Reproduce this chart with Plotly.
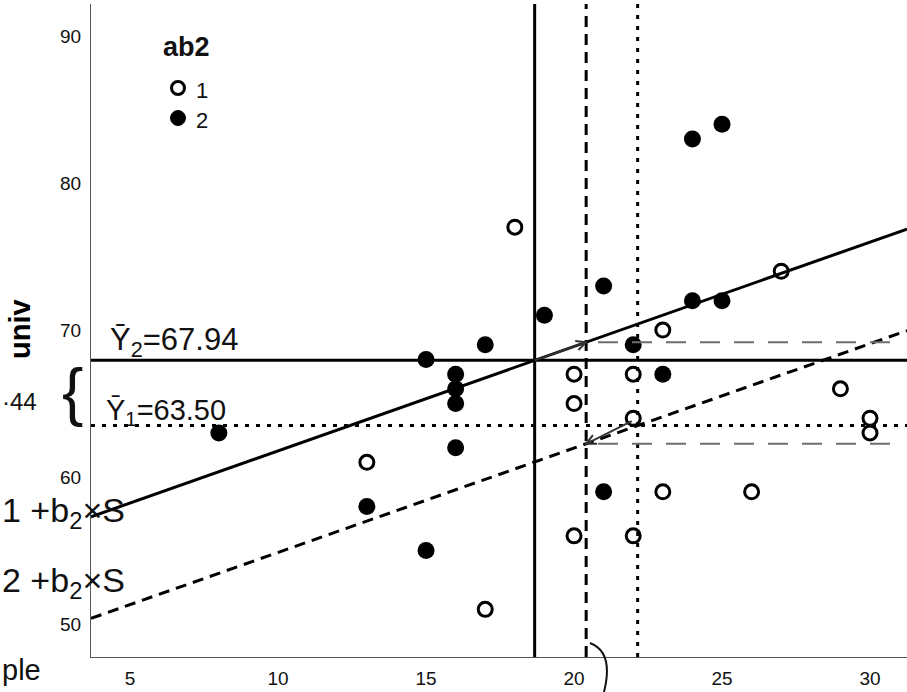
import math
import plotly.graph_objects as go

# ---------------- data ----------------
group_labels = ["1", "2"]
g1_x = [18, 27, 23, 20, 22, 29, 20, 22, 30, 30, 13, 23, 26, 20, 22, 17]
g1_y = [77, 74, 70, 67, 67, 66, 65, 64, 64, 63, 61, 59, 59, 56, 56, 51]
g2_x = [24, 25, 21, 19, 24, 25, 22, 17, 15, 16, 16, 16, 23, 8, 16, 13, 21, 15]
g2_y = [83, 84, 73, 71, 72, 72, 69, 69, 68, 67, 66, 65, 67, 63, 62, 58, 59, 55]

mean_x = [22.15, 18.67]      # group means of ab2 (group 1, group 2)
mean_y = [63.50, 67.94]      # group means of univ
grand_mean_x = 20.41
slope = 0.71                 # common slope of the parallel lines

x_range = [3.68, 31.25]
y_range = [47.76, 92.18]
x_ticks = [5, 10, 15, 20, 25, 30]
y_ticks = [50, 60, 70, 80, 90]

# ---------------- layout geometry ----------------
W, H = 907, 692
ML, MR, MT, MB = 91, 0, 4, 35
PW, PH = W - ML - MR, H - MT - MB


def px(X):
    return (X - ML) / PW


def py(Y):
    return (H - MB - Y) / PH


def dx(x):
    return ML + (x - x_range[0]) / (x_range[1] - x_range[0]) * PW


def dy(y):
    return MT + (y_range[1] - y) / (y_range[1] - y_range[0]) * PH


def line_at(i, x):
    return mean_y[i] + slope * (x - mean_x[i])


FONT = "Liberation Sans, Arial, sans-serif"
INK = "#111111"

fig = go.Figure()

# regression lines (parallel, through group means)
fig.add_trace(go.Scatter(x=x_range, y=[line_at(0, v) for v in x_range], mode="lines",
                         line=dict(color="black", width=3, dash="11px,7px"),
                         showlegend=False, hoverinfo="skip"))
fig.add_trace(go.Scatter(x=x_range, y=[line_at(1, v) for v in x_range], mode="lines",
                         line=dict(color="black", width=3),
                         showlegend=False, hoverinfo="skip"))

# points
fig.add_trace(go.Scatter(x=g1_x, y=g1_y, mode="markers", name=group_labels[0],
                         marker=dict(symbol="circle-open", size=14, color="black",
                                     line=dict(width=3, color="black")),
                         showlegend=False))
fig.add_trace(go.Scatter(x=g2_x, y=g2_y, mode="markers", name=group_labels[1],
                         marker=dict(symbol="circle", size=17, color="black",
                                     line=dict(width=0)),
                         showlegend=False))

shapes = []
# horizontal mean lines
shapes.append(dict(type="line", xref="paper", yref="y", x0=0, x1=1, y0=mean_y[1], y1=mean_y[1],
                   line=dict(color="black", width=3)))
shapes.append(dict(type="line", xref="paper", yref="y", x0=0, x1=1, y0=mean_y[0], y1=mean_y[0],
                   line=dict(color="black", width=3, dash="4px,7px")))
# vertical mean lines
shapes.append(dict(type="line", xref="x", yref="paper", x0=mean_x[1], x1=mean_x[1], y0=0, y1=1,
                   line=dict(color="black", width=3)))
shapes.append(dict(type="line", xref="x", yref="paper", x0=grand_mean_x, x1=grand_mean_x, y0=0, y1=1,
                   line=dict(color="black", width=3, dash="11px,7px")))
shapes.append(dict(type="line", xref="x", yref="paper", x0=mean_x[0], x1=mean_x[0], y0=0, y1=1,
                   line=dict(color="black", width=3, dash="4px,7px")))

# hand-drawn grey projection lines of the adjusted means
adj_hi = line_at(1, grand_mean_x)
adj_lo = line_at(0, grand_mean_x)
for yv in (adj_hi, adj_lo):
    shapes.append(dict(type="line", xref="x", yref="y", x0=grand_mean_x + 0.4, x1=x_range[1] - 0.3,
                       y0=yv, y1=yv, line=dict(color="#6e6e6e", width=2, dash="20px,14px")))


# hand-drawn arrows (as paths)
def arrow(x_from, y_from, x_to, y_to, head=11, spread=0.45):
    X0, Y0, X1, Y1 = dx(x_from), dy(y_from), dx(x_to), dy(y_to)
    ang = math.atan2(Y1 - Y0, X1 - X0)
    wx1 = X1 - head * math.cos(ang - spread)
    wy1 = Y1 - head * math.sin(ang - spread)
    wx2 = X1 - head * math.cos(ang + spread)
    wy2 = Y1 - head * math.sin(ang + spread)
    path = (f"M {px(X0)},{py(Y0)} L {px(X1)},{py(Y1)} "
            f"M {px(wx1)},{py(wy1)} L {px(X1)},{py(Y1)} L {px(wx2)},{py(wy2)}")
    return dict(type="path", xref="paper", yref="paper", path=path,
                line=dict(color="#333333", width=2))


shapes.append(arrow(mean_x[1], mean_y[1], grand_mean_x, adj_hi))
shapes.append(arrow(mean_x[0] - 0.2, mean_y[0] + 0.3, grand_mean_x, adj_lo))

# curved hand mark at the bottom
shapes.append(dict(type="path", xref="paper", yref="paper",
                   path=f"M {px(590)},{py(643)} Q {px(614)},{py(652)} {px(604)},{py(692)}",
                   line=dict(color=INK, width=2)))

# manual legend symbols
shapes.append(dict(type="circle", xref="paper", yref="paper", xsizemode="pixel", ysizemode="pixel",
                   xanchor=px(178), yanchor=py(88), x0=-6.5, x1=6.5, y0=-6.5, y1=6.5,
                   line=dict(color="black", width=3), fillcolor="white"))
shapes.append(dict(type="circle", xref="paper", yref="paper", xsizemode="pixel", ysizemode="pixel",
                   xanchor=px(178), yanchor=py(118), x0=-7.5, x1=7.5, y0=-7.5, y1=7.5,
                   line=dict(color="black", width=1), fillcolor="black"))

annotations = []


def txt(t, X, Y, size, xanchor="left", bold=False, angle=0, color=INK):
    annotations.append(dict(text=f"<b>{t}</b>" if bold else t, xref="paper", yref="paper",
                            x=px(X), y=py(Y), xanchor=xanchor, yanchor="middle",
                            showarrow=False, textangle=angle,
                            font=dict(family=FONT, size=size, color=color)))


# legend text
txt("ab2", 186, 47, 27, xanchor="center", bold=True)
txt(group_labels[0], 194, 90, 22)
txt(group_labels[1], 194, 120, 22)
# y-axis title
txt("univ", 20, 329, 29, xanchor="center", bold=True, angle=-90, color="black")

# hand-written notes
txt("Ȳ<sub>2</sub>=67.94", 108, 342, 31)
txt("Ȳ<sub>1</sub>=63.50", 104, 412, 29)
txt("{", 72, 392, 64, xanchor="center")
txt("·44", 0, 402, 24)
txt("1 +b<sub>2</sub>×S", 0, 512, 34)
txt("2 +b<sub>2</sub>×S", 0, 582, 34)
txt("ple", 0, 670, 29)

fig.update_layout(
    width=W, height=H,
    margin=dict(l=ML, r=MR, t=MT, b=MB, autoexpand=False),
    paper_bgcolor="white", plot_bgcolor="white",
    showlegend=False,
    shapes=shapes,
    annotations=annotations,
    font=dict(family=FONT, color=INK),
    xaxis=dict(range=x_range, tickvals=x_ticks, showgrid=False, zeroline=False,
               showline=True, linecolor="#555555", linewidth=1, automargin=False,
               ticks="outside", ticklen=4, tickcolor="rgba(0,0,0,0)",
               tickfont=dict(family=FONT, size=19, color=INK)),
    yaxis=dict(range=y_range, tickvals=y_ticks, showgrid=False, zeroline=False,
               showline=True, linecolor="#555555", linewidth=1, automargin=False,
               ticks="outside", ticklen=5, tickcolor="rgba(0,0,0,0)",
               tickfont=dict(family=FONT, size=19, color=INK)),
)

fig.write_html("out.html", config={"displayModeBar": False},
               post_script="document.body.style.margin='0';document.body.style.overflow='hidden';")
